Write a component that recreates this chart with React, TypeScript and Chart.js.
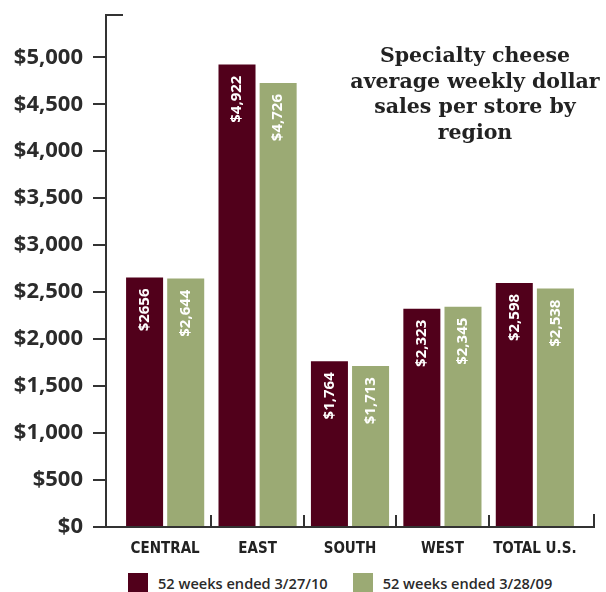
import React, { useEffect, useRef } from "react";
import { Chart, registerables } from "chart.js";

Chart.register(...registerables);

const categories = ["CENTRAL", "EAST", "SOUTH", "WEST", "TOTAL U.S."];
const sales2010 = [2656, 4922, 1764, 2323, 2598];
const sales2009 = [2644, 4726, 1713, 2345, 2538];
const labels2010 = ["$2656", "$4,922", "$1,764", "$2,323", "$2,598"];
const labels2009 = ["$2,644", "$4,726", "$1,713", "$2,345", "$2,538"];
const seriesNames = ["52 weeks ended 3/27/10", "52 weeks ended 3/28/09"];
const seriesColors = ["#51001B", "#9BAA74"];
const yTickValues = [0, 500, 1000, 1500, 2000, 2500, 3000, 3500, 4000, 4500, 5000];
const titleLines = ["Specialty cheese", "average weekly dollar", "sales per store by", "region"];

const AXIS = "#333333";

const barLabelPlugin = {
  id: "barLabels",
  afterDatasetsDraw(chart: any) {
    const ctx = chart.ctx;
    const all = [labels2010, labels2009];
    chart.data.datasets.forEach((_: any, di: number) => {
      const meta = chart.getDatasetMeta(di);
      meta.data.forEach((bar: any, j: number) => {
        ctx.save();
        ctx.translate(bar.x, bar.y + 11);
        ctx.rotate(-Math.PI / 2);
        ctx.font = "bold 15px 'Open Sans', sans-serif";
        ctx.fillStyle = "#ffffff";
        ctx.textAlign = "right";
        ctx.textBaseline = "middle";
        ctx.fillText(all[di][j], 0, 0);
        ctx.restore();
      });
    });
  },
};

const axisDecorPlugin = {
  id: "axisDecor",
  afterDraw(chart: any) {
    const ctx = chart.ctx;
    const { left, right, top, bottom } = chart.chartArea;
    const xs = chart.scales.x;
    ctx.save();
    ctx.strokeStyle = AXIS;
    ctx.lineWidth = 2;
    ctx.beginPath();
    ctx.moveTo(left - 1, top);
    ctx.lineTo(left + 17, top);
    for (let i = 0; i < categories.length - 1; i++) {
      const px = Math.round(xs.getPixelForValue(i + 0.5));
      ctx.moveTo(px, bottom);
      ctx.lineTo(px, bottom - 12);
    }
    ctx.moveTo(right, bottom + 1);
    ctx.lineTo(right, bottom - 13);
    ctx.stroke();
    ctx.restore();
  },
};

export default function App() {
  const canvasRef = useRef<HTMLCanvasElement | null>(null);

  useEffect(() => {
    document.body.style.margin = "0";
    const canvas = canvasRef.current;
    if (!canvas) return;
    const chart = new Chart(canvas, {
      type: "bar",
      data: {
        datasets: [
          {
            label: seriesNames[0],
            data: sales2010.map((v, i) => ({ x: i, y: v })),
            backgroundColor: seriesColors[0],
            categoryPercentage: 0.89,
            barPercentage: 0.9,
          },
          {
            label: seriesNames[1],
            data: sales2009.map((v, i) => ({ x: i, y: v })),
            backgroundColor: seriesColors[1],
            categoryPercentage: 0.89,
            barPercentage: 0.9,
          },
        ],
      },
      options: {
        responsive: false,
        animation: false,
        devicePixelRatio: 1,
        layout: { padding: { top: 15, right: 12, left: 0, bottom: 0 } },
        plugins: {
          legend: { display: false },
          tooltip: { enabled: false },
          title: { display: false },
        },
        scales: {
          x: {
            type: "linear",
            min: -0.64,
            max: 4.64,
            offset: false,
            afterBuildTicks: (scale: any) => {
              scale.ticks = categories.map((_, i) => ({ value: i }));
            },
            afterFit: (scale: any) => {
              scale.height = 38;
              scale.paddingLeft = 0;
              scale.paddingRight = 0;
            },
            ticks: {
              autoSkip: false,
              maxRotation: 0,
              minRotation: 0,
              padding: 13,
              color: "#222222",
              font: { family: "'DejaVu Sans Condensed', 'DejaVu Sans', sans-serif", size: 15, weight: "bold" },
              callback: (v: any) => categories[Math.round(Number(v))] ?? "",
            },
            grid: { display: true, drawOnChartArea: false, drawTicks: false, color: "rgba(0,0,0,0)" },
            border: { display: true, color: AXIS, width: 2 },
          },
          y: {
            min: 0,
            max: 5450,
            afterBuildTicks: (scale: any) => {
              scale.ticks = yTickValues.map((v) => ({ value: v }));
            },
            afterFit: (scale: any) => {
              scale.width = 106;
              scale.paddingTop = 0;
              scale.paddingBottom = 0;
            },
            ticks: {
              padding: 10,
              color: "#2b2b2b",
              font: { family: "'Open Sans', sans-serif", size: 22, weight: "bold" },
              callback: (v: any) => "$" + Number(v).toLocaleString("en-US"),
            },
            grid: { display: true, drawOnChartArea: false, drawTicks: true, tickLength: 13, color: AXIS, lineWidth: 2 },
            border: { display: true, color: AXIS, width: 2 },
          },
        },
      },
      plugins: [barLabelPlugin, axisDecorPlugin],
    } as any);
    return () => chart.destroy();
  }, []);

  return (
    <div style={{ position: "relative", width: 606, height: 592, overflow: "hidden", background: "#fff" }}>
      <canvas ref={canvasRef} width={606} height={565} style={{ display: "block" }} />
      <div
        style={{
          position: "absolute",
          left: 325,
          top: 43,
          width: 300,
          textAlign: "center",
          fontFamily: "'DejaVu Serif', serif",
          fontWeight: "bold",
          fontSize: 20.5,
          lineHeight: "25.7px",
          color: "#222222",
        }}
      >
        {titleLines.map((t) => (
          <div key={t}>{t}</div>
        ))}
      </div>
      <div
        style={{
          position: "absolute",
          left: 128,
          top: 573,
          display: "flex",
          alignItems: "center",
          fontFamily: "'Open Sans', sans-serif",
          fontWeight: 600,
          fontSize: 14.6,
          color: "#2a2a2a",
          whiteSpace: "nowrap",
        }}
      >
        {seriesNames.map((name, i) => (
          <div key={name} style={{ display: "flex", alignItems: "center", marginLeft: i === 0 ? 0 : 25 }}>
            <div style={{ width: 20, height: 20, background: seriesColors[i], marginRight: 10 }} />
            <span>{name}</span>
          </div>
        ))}
      </div>
    </div>
  );
}
